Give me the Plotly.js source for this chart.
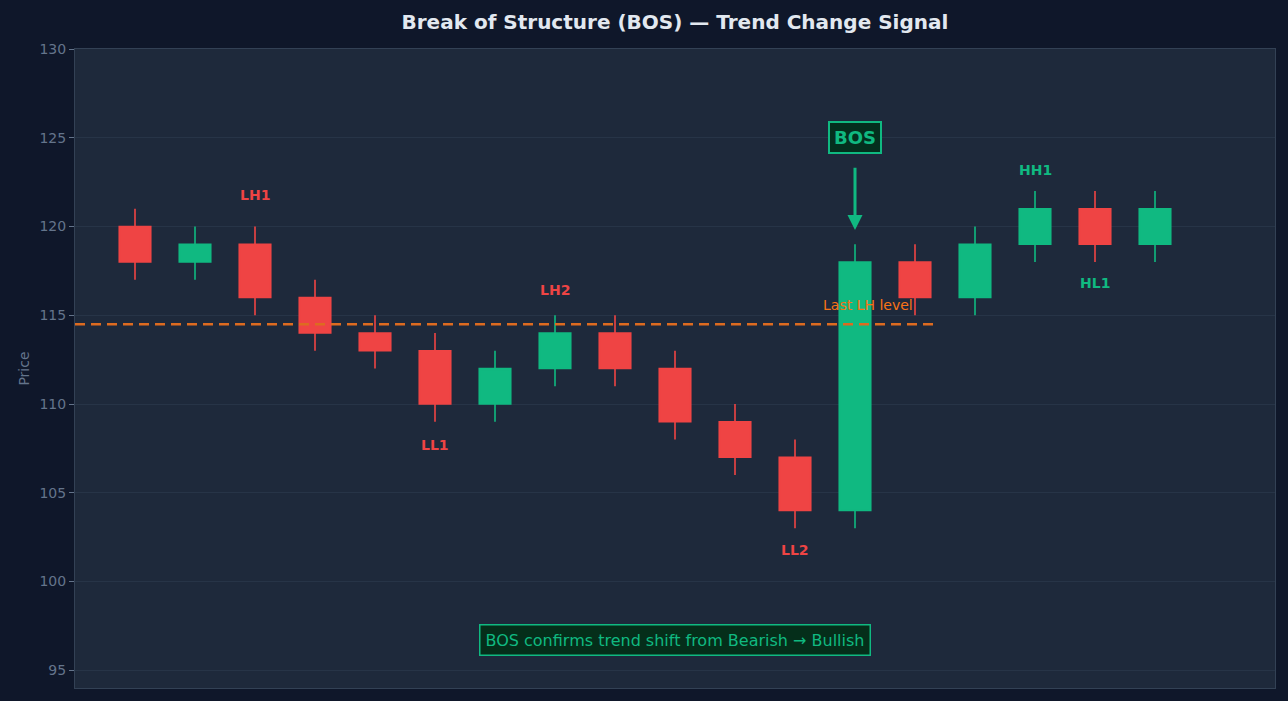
<!DOCTYPE html>
<html>
<head>
<meta charset="utf-8">
<script src="https://cdn.plot.ly/plotly-3.0.1.min.js"></script>
<style>
  html, body { margin: 0; padding: 0; background: #0f172a; }
  #chart { width: 1288px; height: 701px; }
</style>
</head>
<body>
<div id="chart"></div>
<script>
// candle index and OHLC values
const idx   = [0, 1, 2, 3, 4, 5, 6, 7, 8, 9, 10, 11, 12, 13, 14, 15, 16, 17];
const open  = [120, 118, 119, 116, 114, 113, 110, 112, 114, 112, 109, 107, 104, 118, 116, 119, 121, 119];
const high  = [121, 120, 120, 117, 115, 114, 113, 115, 115, 113, 110, 108, 119, 119, 120, 122, 122, 122];
const low   = [117, 117, 115, 113, 112, 109, 109, 111, 111, 108, 106, 103, 103, 115, 115, 118, 118, 118];
const close = [118, 119, 116, 114, 113, 110, 112, 114, 112, 109, 107, 104, 118, 116, 119, 121, 119, 121];

// swing labels
const swingText = ['LH1', 'LL1', 'LH2', 'LL2', 'HH1', 'HL1'];
const swingX    = [2, 5, 7, 11, 15, 16];
const swingY    = [121.8, 107.7, 116.4, 101.8, 123.2, 116.8];
const swingCol  = ['#ef4444', '#ef4444', '#ef4444', '#ef4444', '#10b981', '#10b981'];

const lastLH = 114.5;
const lhSpan = [-1, 13.4];
const bosIdx = 12;

const GREEN = '#10b981';
const RED = '#ef4444';
const ORANGE = '#f97316';

let candles = {
    type: 'candlestick',
    x: idx, open: open, high: high, low: low, close: close,
    increasing: { line: { color: GREEN, width: 1.6 }, fillcolor: GREEN },
    decreasing: { line: { color: RED, width: 1.6 }, fillcolor: RED },
    whiskerwidth: 0,
    hoverinfo: 'skip',
    showlegend: false
};

let lhLine = {
    type: 'scatter', mode: 'lines',
    x: lhSpan, y: [lastLH, lastLH],
    line: { color: '#dd6b20', width: 2.5, dash: '10px,6px' },
    hoverinfo: 'skip', showlegend: false
};

let annotations = swingText.map((t, i) => ({
    x: swingX[i], y: swingY[i], text: '<b>' + t + '</b>',
    showarrow: false,
    font: { family: 'DejaVu Sans', size: 14, color: swingCol[i] }
}));

annotations.push({
    x: 13, y: lastLH + 0.5, text: 'Last LH level',
    xanchor: 'right', yanchor: 'bottom', showarrow: false,
    font: { family: 'DejaVu Sans', size: 14, color: ORANGE }
});

// BOS arrow
annotations.push({
    x: bosIdx, y: 119.8, ax: bosIdx, ay: 123.4,
    axref: 'x', ayref: 'y', text: '',
    showarrow: true, arrowhead: 2, arrowsize: 1, arrowwidth: 3,
    arrowcolor: GREEN
});

annotations.push({
    x: bosIdx, y: 125, text: '<b>BOS</b>',
    showarrow: false,
    font: { family: 'DejaVu Sans', size: 18, color: GREEN },
    bgcolor: '#042f1e', bordercolor: GREEN, borderwidth: 2, borderpad: 4
});

annotations.push({
    x: 9, y: 96.7, text: 'BOS confirms trend shift from Bearish \u2192 Bullish',
    showarrow: false,
    font: { family: 'DejaVu Sans', size: 16, color: GREEN },
    bgcolor: '#052e1a', bordercolor: GREEN, borderwidth: 1.5, borderpad: 5
});

let layout = {
    width: 1288, height: 701,
    paper_bgcolor: '#0f172a',
    plot_bgcolor: '#1e293b',
    margin: { l: 75, r: 13, t: 49, b: 13 },
    boxgap: 0.25,
    title: {
        text: '<b>Break of Structure (BOS) \u2014 Trend Change Signal</b>',
        font: { family: 'DejaVu Sans', size: 20, color: '#e2e8f0' },
        x: 0.524, xanchor: 'center', y: 0.968, yanchor: 'middle'
    },
    xaxis: {
        range: [-1, 19], showticklabels: false, showgrid: false,
        zeroline: false, rangeslider: { visible: false },
        showline: true, linecolor: '#334155', mirror: true, ticks: ''
    },
    yaxis: {
        range: [94, 130], tickvals: [95, 100, 105, 110, 115, 120, 125, 130],
        tickfont: { family: 'DejaVu Sans', size: 14, color: '#64748b' },
        gridcolor: '#273447', zeroline: false,
        showline: true, linecolor: '#334155', mirror: true,
        ticks: 'outside', ticklen: 5, tickcolor: '#64748b',
        title: { text: 'Price', font: { family: 'DejaVu Sans', size: 14, color: '#64748b' }, standoff: 6 }
    },
    annotations: annotations,
    showlegend: false
};

Plotly.newPlot('chart', [lhLine, candles], layout, { displayModeBar: false, staticPlot: true });
</script>
</body>
</html>
